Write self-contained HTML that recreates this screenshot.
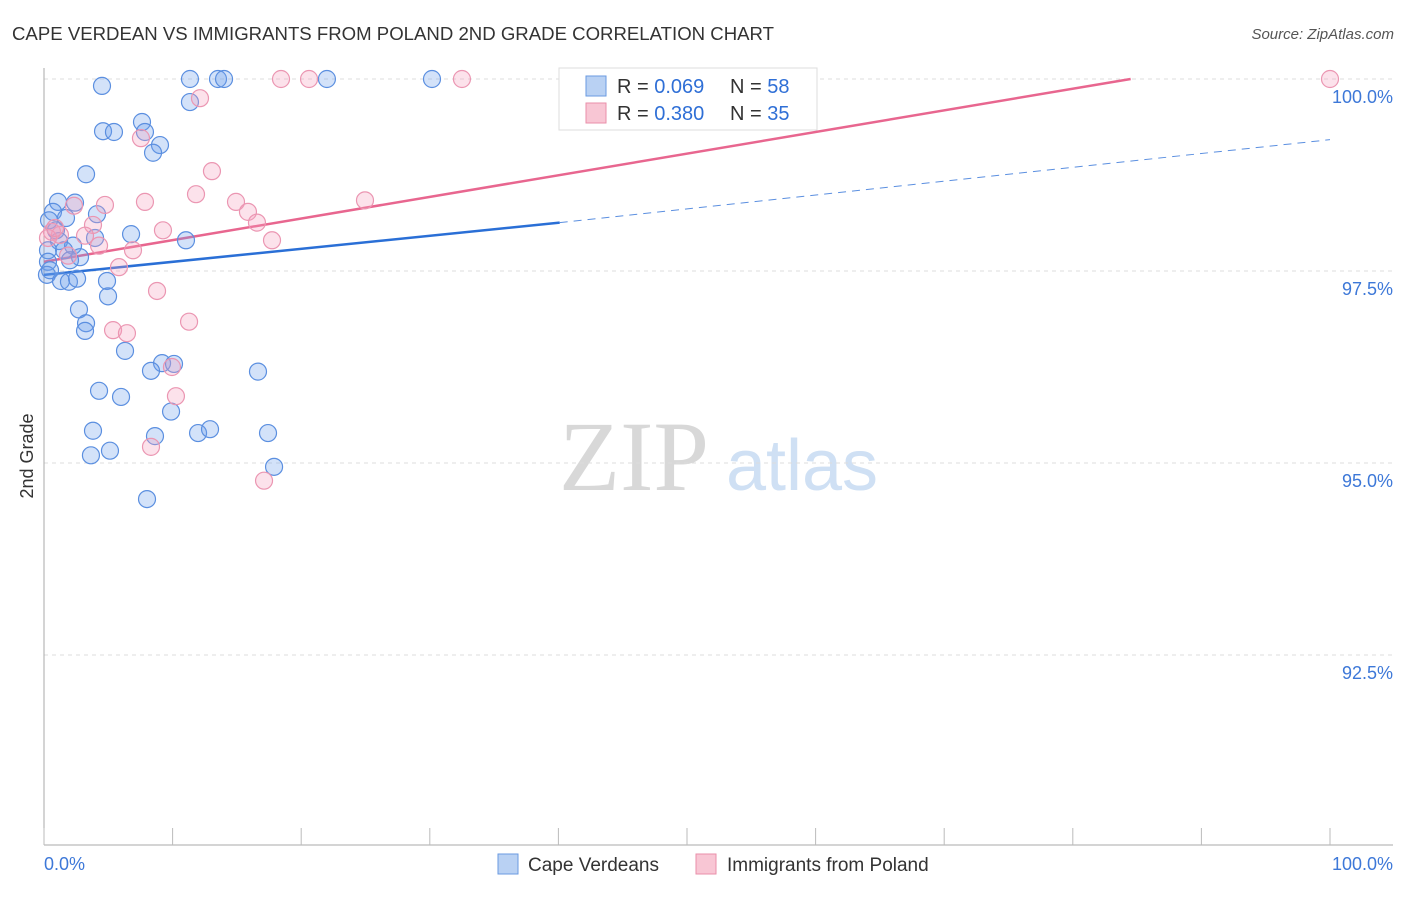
<!DOCTYPE html>
<html><head><meta charset="utf-8"><style>
body{margin:0;background:#fff;font-family:"Liberation Sans",sans-serif;}
</style></head><body>
<svg id="chart" width="1406" height="892" xmlns="http://www.w3.org/2000/svg" font-family="Liberation Sans, sans-serif">
<text x="12" y="40" font-size="18" fill="#333" textLength="762" lengthAdjust="spacingAndGlyphs">CAPE VERDEAN VS IMMIGRANTS FROM POLAND 2ND GRADE CORRELATION CHART</text>
<text x="1394" y="39" font-size="15" fill="#555" font-style="italic" text-anchor="end">Source: ZipAtlas.com</text>
<text transform="translate(33,456) rotate(-90)" font-size="18" fill="#333" text-anchor="middle">2nd Grade</text>
<g>
<text x="634" y="490" font-size="100" fill="#d8d8d8" style="font-family:'Liberation Serif',serif" text-anchor="middle">ZIP</text>
<text x="802" y="490" font-size="72" fill="#cfe0f4" text-anchor="middle">atlas</text>
</g>
<g id="grid"></g>
<g id="lines"></g>
<g id="points"></g>
<g>
<rect x="559" y="68" width="258" height="62" fill="#fff" stroke="#ddd"/>
<rect x="586" y="76" width="20" height="20" fill="#b9d1f3" stroke="#6a9ae0"/>
<text x="617" y="93" font-size="20" fill="#333">R = <tspan fill="#2f6fd6">0.069</tspan></text>
<text x="730" y="93" font-size="20" fill="#333">N = <tspan fill="#2f6fd6">58</tspan></text>
<rect x="586" y="103" width="20" height="20" fill="#f8c6d4" stroke="#ea8faa"/>
<text x="617" y="120" font-size="20" fill="#333">R = <tspan fill="#2f6fd6">0.380</tspan></text>
<text x="730" y="120" font-size="20" fill="#333">N = <tspan fill="#2f6fd6">35</tspan></text>
</g>
<g>
<rect x="498" y="854" width="20" height="20" fill="#b9d1f3" stroke="#6a9ae0"/>
<text x="528" y="871" font-size="19" fill="#333">Cape Verdeans</text>
<rect x="696" y="854" width="20" height="20" fill="#f8c6d4" stroke="#ea8faa"/>
<text x="727" y="871" font-size="19" fill="#333">Immigrants from Poland</text>
</g>
</svg>
<script>
const yTicks=[100,97.5,95,92.5];
const yTickLabels=["100.0%","97.5%","95.0%","92.5%"];
const xTickLabels=["0.0%","100.0%"];
const blueX=[4.51,11.35,13.53,14.0,22.0,30.17,11.35,4.59,5.44,7.62,7.85,9.02,8.48,3.27,1.09,2.41,0.70,4.12,1.71,0.39,0.93,6.77,11.04,3.97,1.17,2.26,0.31,2.80,0.31,0.23,1.32,1.94,2.57,4.90,4.98,2.72,3.27,3.19,6.30,9.18,10.11,8.32,16.64,4.28,5.99,9.88,3.81,8.63,11.98,12.91,17.42,3.65,5.13,17.89,8.01,0.47,1.56,2.02];
const blueY=[99.91,100,100,100,100,100,99.70,99.32,99.31,99.44,99.31,99.14,99.04,98.76,98.40,98.39,98.27,98.24,98.19,98.16,98.03,97.98,97.90,97.93,97.89,97.83,97.77,97.68,97.62,97.45,97.37,97.36,97.40,97.37,97.17,97.0,96.82,96.72,96.46,96.30,96.29,96.20,96.19,95.94,95.86,95.67,95.42,95.35,95.39,95.44,95.39,95.10,95.16,94.95,94.53,97.51,97.77,97.64];
const pinkX=[18.43,20.61,32.5,100,12.13,7.54,13.06,11.82,7.85,14.93,4.74,24.96,2.33,15.86,16.56,3.81,9.25,0.62,1.24,3.19,17.73,4.28,6.92,1.87,5.83,8.79,11.28,5.37,6.45,9.95,10.26,8.32,17.11,0.31,0.86];
const pinkY=[100,100,100,100,99.75,99.23,98.80,98.50,98.40,98.40,98.36,98.42,98.35,98.27,98.13,98.10,98.03,98.01,97.97,97.96,97.90,97.83,97.77,97.70,97.55,97.24,96.84,96.73,96.69,96.25,95.87,95.21,94.77,97.93,98.06];
const blueTrend=[[0,97.45],[40.1,98.13],[100,99.21]];
const pinkTrend=[[0,97.62],[84.5,100]];
const NS="http://www.w3.org/2000/svg";
const X0=44,X1=1330,Y100=79,PXPER=192/2.5;
function sx(v){return X0+(X1-X0)*v/100;}
function sy(v){return Y100+(100-v)*PXPER;}
function mk(tag,attrs,parent){const e=document.createElementNS(NS,tag);for(const k in attrs)e.setAttribute(k,attrs[k]);parent.appendChild(e);return e;}
const grid=document.getElementById('grid');
yTicks.forEach((t,i)=>{
 const l=mk('line',{x1:X0,x2:1393,y1:sy(t),y2:sy(t),stroke:'#ddd','stroke-dasharray':'4,4'},grid);
 
 
 const tx=mk('text',{x:1393,y:sy(t)+24,'font-size':18,fill:'#3d78d8','text-anchor':'end'},grid);
 tx.textContent=yTickLabels[i];
 
 
});
const ax=mk('line',{x1:X0,x2:X0,y1:68,y2:845,stroke:'#aaa'},grid);


const bx=mk('line',{x1:X0,x2:1393,y1:845,y2:845,stroke:'#aaa'},grid);


for(let i=0;i<=10;i++){
 const t=mk('line',{x1:sx(i*10),x2:sx(i*10),y1:828,y2:845,stroke:'#bbb'},grid);
 
 
}
[[0,'start',X0],[100,'end',1393]].forEach((d,i)=>{
 const tx=mk('text',{x:d[2],y:870,'font-size':18,fill:'#3d78d8','text-anchor':d[1]},grid);
 tx.textContent=xTickLabels[i];
 
 
});
const lines=document.getElementById('lines');
const b1=mk('line',{x1:sx(blueTrend[0][0]),y1:sy(blueTrend[0][1]),x2:sx(blueTrend[1][0]),y2:sy(blueTrend[1][1]),stroke:'#2a6fd6','stroke-width':2.5},lines);


const b2=mk('line',{x1:sx(blueTrend[1][0]),y1:sy(blueTrend[1][1]),x2:sx(blueTrend[2][0]),y2:sy(blueTrend[2][1]),stroke:'#5b8fe0','stroke-width':1,'stroke-dasharray':'8,6'},lines);


const pts=document.getElementById('points');
blueX.forEach((x,i)=>{
 const c=mk('circle',{cx:sx(x),cy:sy(blueY[i]),r:8.5,fill:'rgba(110,160,235,0.3)',stroke:'#5b8fe0','stroke-width':1.2},pts);
 
 
});
pinkX.forEach((x,i)=>{
 const c=mk('circle',{cx:sx(x),cy:sy(pinkY[i]),r:8.5,fill:'rgba(245,160,190,0.3)',stroke:'#eb96b2','stroke-width':1.2},pts);
 
 
});
const p1=mk('line',{x1:sx(pinkTrend[0][0]),y1:sy(pinkTrend[0][1]),x2:sx(pinkTrend[1][0]),y2:sy(pinkTrend[1][1]),stroke:'#e8668f','stroke-width':2.5},lines);


</script>
</body></html>
